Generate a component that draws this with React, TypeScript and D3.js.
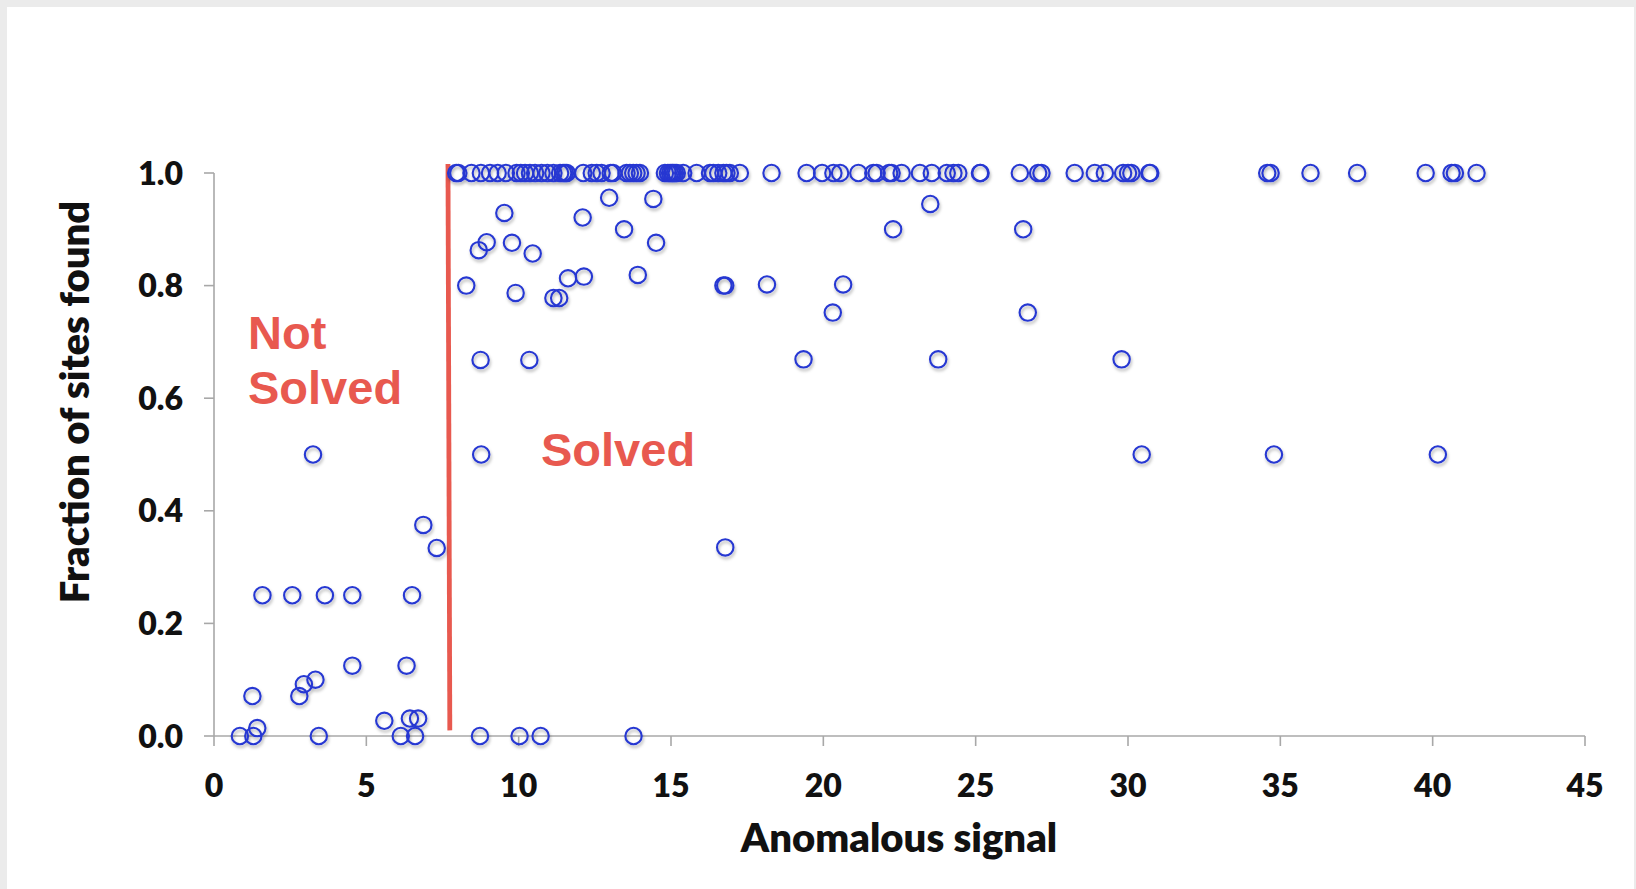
import React from "react";
import * as d3 from "d3";

const xTickValues = [0, 5, 10, 15, 20, 25, 30, 35, 40, 45];
const yTickValues = [0, 0.2, 0.4, 0.6, 0.8, 1.0];

// Anomalous signal of cases where all sites were found (fraction = 1.0)
const fullFoundSignal = [
  7.95, 8.02, 8.45, 8.76, 9.06, 9.31, 9.58, 9.93, 10.07, 10.21, 10.37, 10.54, 10.75, 10.94,
  11.14, 11.36, 11.46, 11.52, 11.58, 12.12, 12.4, 12.56, 12.72, 13.02, 13.1, 13.54, 13.65,
  13.76, 13.87, 13.98, 14.8, 14.9, 14.97, 15.03, 15.07, 15.13, 15.19, 15.4, 15.84, 16.28,
  16.39, 16.55, 16.72, 16.82, 16.93, 17.26, 18.3, 19.45, 19.96, 20.33, 20.55, 21.15, 21.64,
  21.75, 22.16, 22.24, 22.57, 23.17, 23.56, 24.05, 24.27, 24.43, 25.14, 25.16, 26.45, 27.05,
  27.16, 28.25, 28.91, 29.24, 29.84, 30.0, 30.11, 30.7, 30.73, 34.57, 34.68, 35.99, 37.52,
  39.77, 40.62, 40.73, 41.44,
];

// Remaining cases: anomalous signal and fraction of sites found
const partialSignal = [
  0.85, 1.29, 1.42, 1.26, 1.59, 2.57, 2.8, 2.95, 3.25, 3.33, 3.44, 3.64, 4.54, 4.54, 5.59,
  6.13, 6.32, 6.43, 6.5, 6.6, 6.7, 6.87, 7.31,
  8.73, 8.77, 8.75, 8.28, 8.69, 8.95, 9.53, 9.78, 9.9, 10.03, 10.35, 10.46, 10.72, 11.14,
  11.33, 11.62, 12.1, 12.14, 12.97, 13.46, 13.77, 13.91, 14.42, 14.51, 16.72, 16.78, 16.78,
  18.15, 19.35, 20.31, 20.65, 22.29, 23.51, 23.77, 26.56, 26.71, 29.79, 30.45, 34.79, 40.17,
];
const partialFraction = [
  0, 0, 0.014, 0.071, 0.25, 0.25, 0.071, 0.092, 0.5, 0.1, 0, 0.25, 0.25, 0.125, 0.027,
  0, 0.125, 0.031, 0.25, 0, 0.031, 0.375, 0.334,
  0, 0.5, 0.668, 0.8, 0.863, 0.877, 0.929, 0.876, 0.787, 0, 0.668, 0.857, 0, 0.778,
  0.778, 0.813, 0.921, 0.816, 0.956, 0.9, 0, 0.819, 0.954, 0.876, 0.8, 0.8, 0.335,
  0.802, 0.669, 0.752, 0.802, 0.9, 0.945, 0.669, 0.9, 0.752, 0.669, 0.5, 0.5, 0.5,
];

// Threshold line separating solved / not solved
const thresholdSignal = [7.68, 7.74];
const thresholdFraction = [1.016, 0.01];

const W = 1636;
const H = 889;

export default function App() {
  const x = d3.scaleLinear().domain([0, 45]).range([214, 1585]);
  const y = d3.scaleLinear().domain([0, 1]).range([736, 173]);

  const points = [
    ...fullFoundSignal.map((s) => ({ s, f: 1.0 })),
    ...partialSignal.map((s, i) => ({ s, f: partialFraction[i] })),
  ];

  const axisColor = "#a8a8a8";
  const red = "#e8594f";
  const blue = "#2637d2";
  const labelFont = "Lato, 'Open Sans', sans-serif";
  const annoFont = "'Liberation Sans', Arial, sans-serif";

  const line = d3
    .line<number>()
    .x((d, i) => x(thresholdSignal[i]))
    .y((d) => y(d));

  return (
    <div style={{ position: "absolute", left: 0, top: 0, width: W, height: H }}>
      <svg width={W} height={H} style={{ display: "block" }}>
        <defs>
          <filter id="sh" x="-50%" y="-50%" width="200%" height="200%">
            <feDropShadow dx="1" dy="2.5" stdDeviation="1.4" floodColor="#000" floodOpacity="0.3" />
          </filter>
        </defs>
        <rect x={0} y={0} width={W} height={H} fill="#ebebeb" />
        <rect x={7} y={7} width={W - 9} height={H - 7} fill="#ffffff" />

        {/* axes */}
        <line x1={x(0)} x2={x(45)} y1={y(0)} y2={y(0)} stroke={axisColor} strokeWidth={1.6} />
        <line x1={x(0)} x2={x(0)} y1={y(0)} y2={y(1)} stroke={axisColor} strokeWidth={1.6} />
        {yTickValues.map((t) => (
          <g key={"y" + t}>
            <line x1={x(0) - 10} x2={x(0)} y1={y(t)} y2={y(t)} stroke={axisColor} strokeWidth={1.6} />
            <text
              x={183}
              y={y(t)}
              dy="0.36em"
              textAnchor="end"
              fontFamily={labelFont}
              fontWeight={800}
              fontSize={32}
              fill="#111"
            >
              {d3.format(".1f")(t)}
            </text>
          </g>
        ))}
        {xTickValues.map((t) => (
          <g key={"x" + t}>
            <line x1={x(t)} x2={x(t)} y1={y(0)} y2={y(0) + 10} stroke={axisColor} strokeWidth={1.6} />
            <text
              x={x(t)}
              y={785}
              dy="0.36em"
              textAnchor="middle"
              fontFamily={labelFont}
              fontWeight={800}
              fontSize={32}
              fill="#111"
            >
              {t}
            </text>
          </g>
        ))}

        {/* axis titles */}
        <text
          x={899}
          y={838}
          dy="0.36em"
          textAnchor="middle"
          fontFamily={labelFont}
          fontWeight={800}
          fontSize={40}
          fill="#111"
        >
          Anomalous signal
        </text>
        <text
          transform={`translate(75,402) rotate(-90)`}
          dy="0.36em"
          textAnchor="middle"
          fontFamily={labelFont}
          fontWeight={800}
          fontSize={40}
          fill="#111"
        >
          Fraction of sites found
        </text>

        {/* threshold */}
        <path d={line(thresholdFraction) || ""} stroke={red} strokeWidth={4.8} fill="none" />

        {/* points */}
        <g filter="url(#sh)">
          {points.map((p, i) => (
            <circle key={i} cx={x(p.s)} cy={y(p.f)} r={8.2} fill="none" stroke={blue} strokeWidth={2.1} />
          ))}
        </g>

        {/* annotations */}
        <text x={248} y={349} fontFamily={annoFont} fontWeight={700} fontSize={47} fill={red}>
          Not
        </text>
        <text x={248} y={404} fontFamily={annoFont} fontWeight={700} fontSize={47} fill={red}>
          Solved
        </text>
        <text x={541} y={466} fontFamily={annoFont} fontWeight={700} fontSize={47} fill={red}>
          Solved
        </text>
      </svg>
    </div>
  );
}
